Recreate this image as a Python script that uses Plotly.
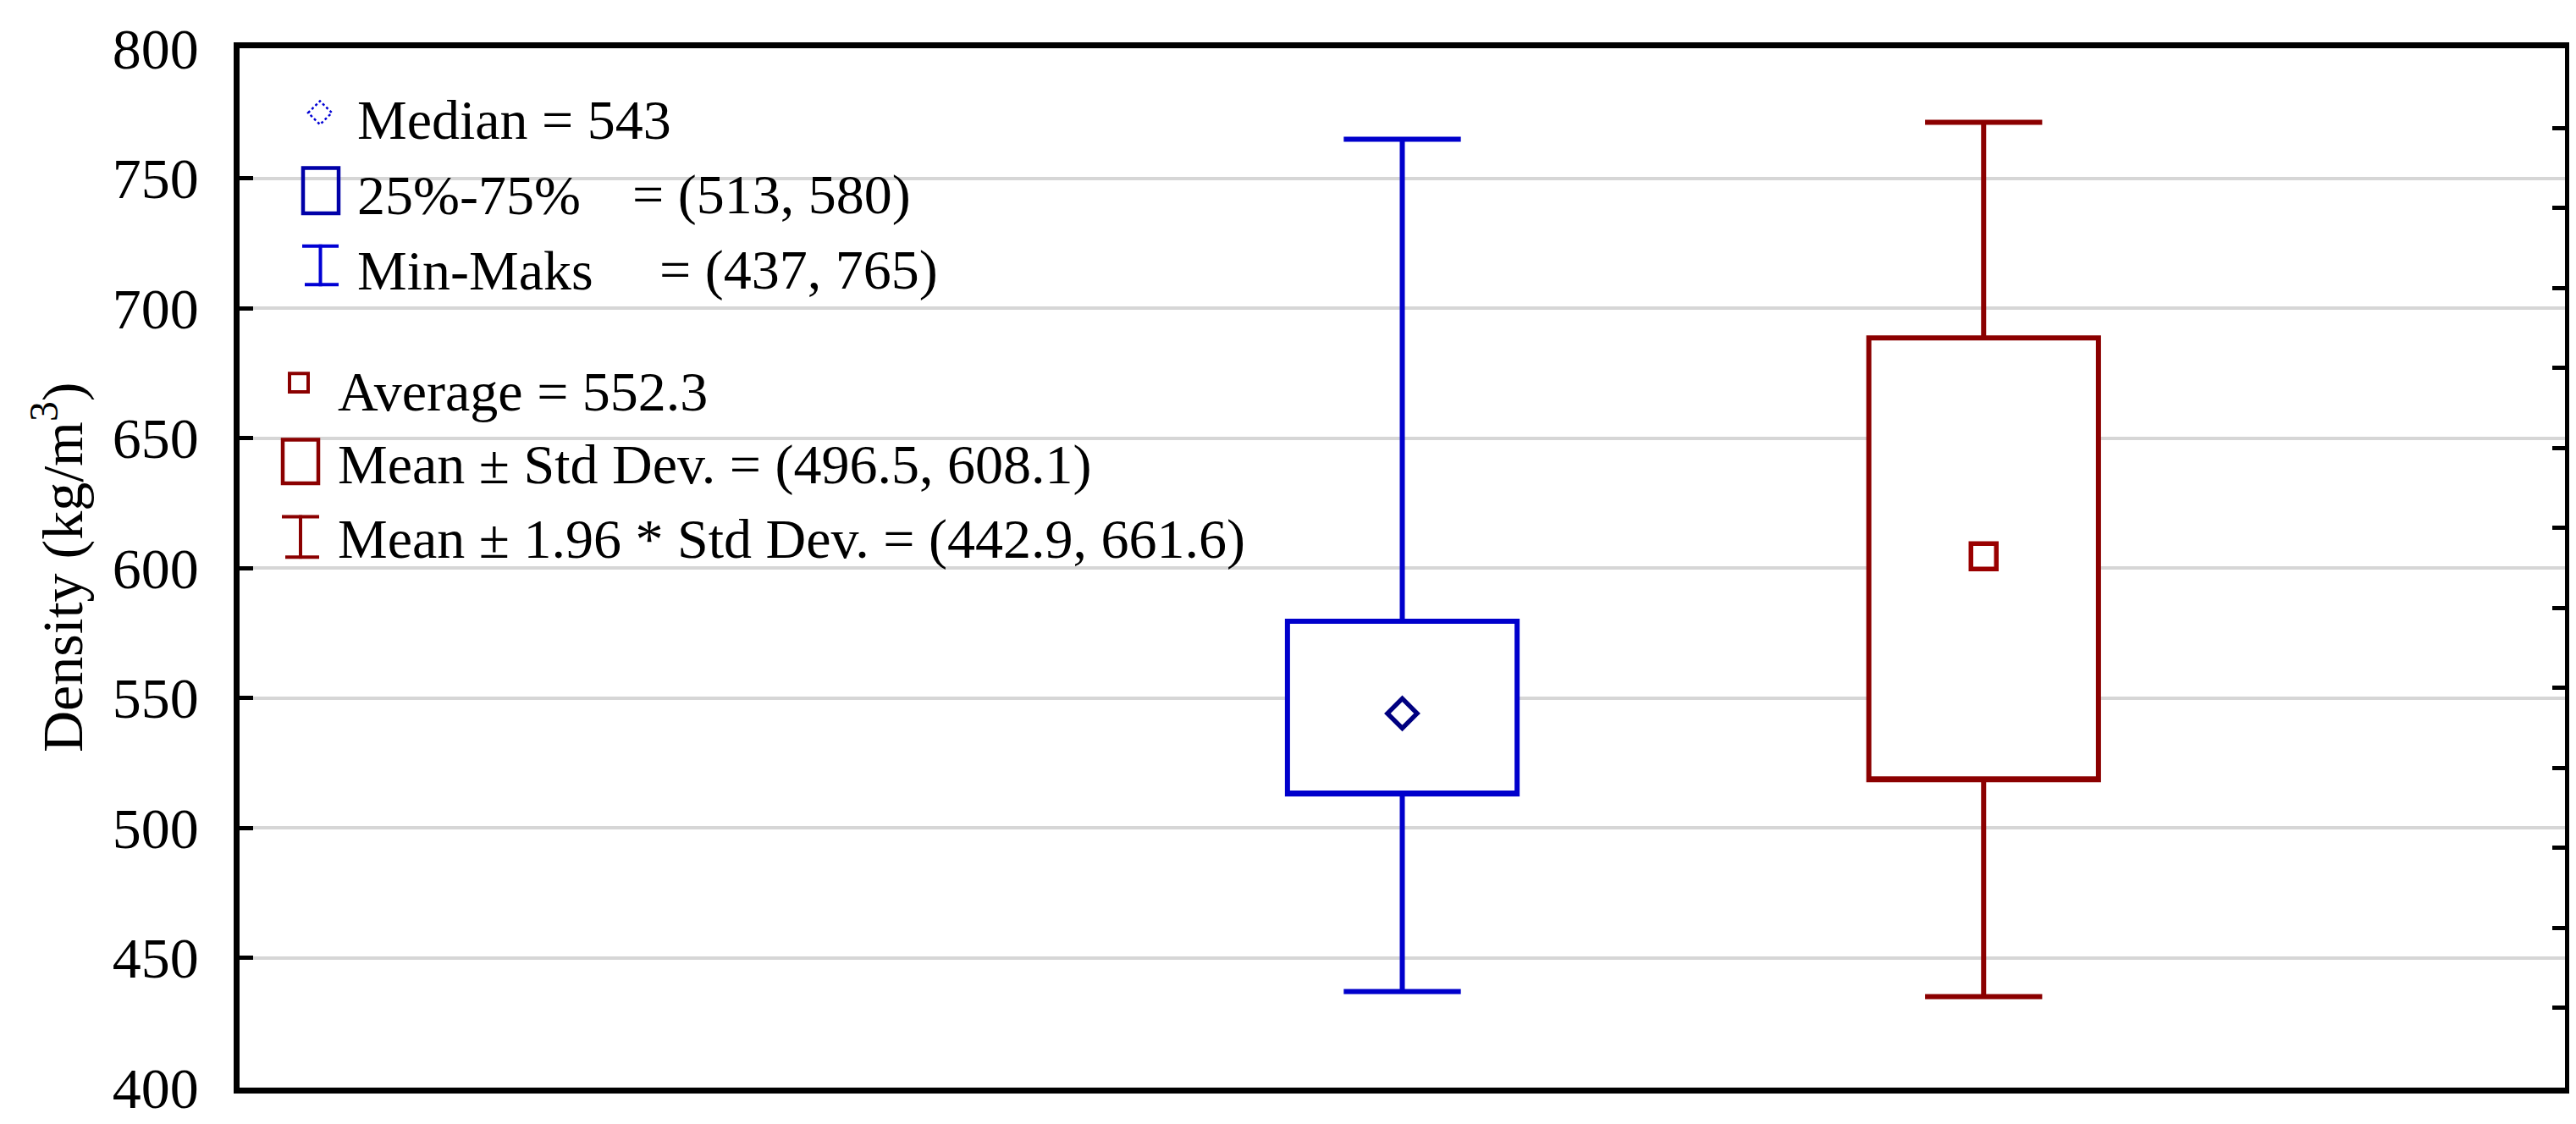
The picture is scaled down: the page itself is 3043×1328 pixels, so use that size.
import plotly.graph_objects as go

# values
positions = [1, 2]
box_low = [513.0, 518.5]      # 25% / mean - sd
box_high = [579.5, 688.5]     # 75% / mean + sd
whisk_low = [437.0, 435.0]    # min / mean - 1.96 sd
whisk_high = [765.0, 771.5]   # max / mean + 1.96 sd
centre = [544.0, 604.5]       # median / mean
colors = ["#0000cc", "#8b0000"]
centre_colors = ["#000080", "#9a0000"]
centre_symbols = ["diamond-open", "square-open"]

y_ticks = [400, 450, 500, 550, 600, 650, 700, 750, 800]

legend_rows = [
    ["Median = 543"],
    ["25%-75%", "= (513, 580)"],
    ["Min-Maks", "= (437, 765)"],
    ["Average = 552.3"],
    ["Mean \u00b1 Std Dev. = (496.5, 608.1)"],
    ["Mean \u00b1 1.96 * Std Dev. = (442.9, 661.6)"],
]

W, H = 3043, 1328
L, R, T, B = 275, 3022, 45, 1285
FONT = "Liberation Serif"


def px(x):
    return (x - L) / (R - L)


def py(y):
    return (B - y) / (B - T)


fig = go.Figure()

for i in range(2):
    fig.add_trace(go.Box(
        x=[positions[i]],
        q1=[box_low[i]], median=[box_low[i]], q3=[box_high[i]],
        lowerfence=[whisk_low[i]], upperfence=[whisk_high[i]],
        width=0.395, whiskerwidth=0.51,
        fillcolor="white",
        line=dict(color=colors[i], width=6),
        boxpoints=False, hoverinfo="skip", showlegend=False,
    ))
    fig.add_trace(go.Scatter(
        x=[positions[i]], y=[centre[i]], mode="markers",
        marker=dict(symbol=centre_symbols[i], size=[27, 30][i],
                    color=centre_colors[i],
                    line=dict(color=centre_colors[i], width=5.5)),
        showlegend=False, hoverinfo="skip",
    ))

# empty trace so the right-hand axis gets drawn
fig.add_trace(go.Scatter(x=[None], y=[None], yaxis="y2", showlegend=False, hoverinfo="skip"))

# legend icons
shapes = []
def rect(x0, y0, x1, y1, c, w):
    shapes.append(dict(type="rect", xref="paper", yref="paper",
                       x0=px(x0), x1=px(x1), y0=py(y1), y1=py(y0),
                       line=dict(color=c, width=w), fillcolor="rgba(0,0,0,0)"))

def seg(x0, y0, x1, y1, c, w):
    shapes.append(dict(type="line", xref="paper", yref="paper",
                       x0=px(x0), x1=px(x1), y0=py(y0), y1=py(y1),
                       line=dict(color=c, width=w)))

# diamond
cx, cy, r = 370, 122, 14
shapes.append(dict(type="path", xref="paper", yref="paper",
                   path="M %f %f L %f %f L %f %f L %f %f Z" % (
                       px(cx - r), py(cy), px(cx), py(cy - r),
                       px(cx + r), py(cy), px(cx), py(cy + r)),
                   line=dict(color="#0000d4", width=2.5, dash="dot")))
rect(350, 188, 392, 242, "#0000a8", 4.5)
seg(370.5, 279, 370.5, 329, "#0000d4", 4)
seg(349, 281, 392, 281, "#0000d4", 4)
seg(352, 327, 392, 327, "#0000d4", 4)
rect(334, 433, 356, 455, "#8b0000", 4)
rect(326, 512, 368, 564, "#8b0000", 4.5)
seg(347, 602, 347, 654, "#8b0000", 4)
seg(325, 604, 369, 604, "#8b0000", 4)
seg(329, 652, 369, 652, "#8b0000", 4)

annotations = []
text_x = [412, 412, 412, 389, 389, 389]
text_y = [130, 220, 310, 454, 542, 631]
second_x = [None, 737, 769, None, None, None]
for i, row in enumerate(legend_rows):
    annotations.append(dict(xref="paper", yref="paper", x=px(text_x[i]), y=py(text_y[i]),
                            text=row[0], showarrow=False, xanchor="left", yanchor="middle",
                            font=dict(family=FONT, size=66, color="black")))
    if len(row) > 1:
        annotations.append(dict(xref="paper", yref="paper", x=px(second_x[i]), y=py(text_y[i]),
                                text=row[1], showarrow=False, xanchor="left", yanchor="middle",
                                font=dict(family=FONT, size=66, color="black")))

annotations.append(dict(xref="paper", yref="paper", x=px(61), y=0.5,
                        text="Density (kg/m<sup>3</sup>)", textangle=-90, showarrow=False,
                        xanchor="center", yanchor="middle",
                        font=dict(family=FONT, size=68, color="black")))

fig.update_layout(
    width=W, height=H,
    margin=dict(l=L, r=W - R, t=T, b=H - B),
    paper_bgcolor="white", plot_bgcolor="white",
    font=dict(family=FONT, size=66, color="black"),
    xaxis=dict(range=[-1, 3], showline=True, mirror=True, linecolor="black", linewidth=6.5,
               showticklabels=False, ticks="", showgrid=False, zeroline=False),
    yaxis=dict(range=[400, 800], tickvals=y_ticks, showline=True, linecolor="black",
               linewidth=6.5, ticks="inside", ticklen=16, tickwidth=5, tickcolor="black",
               showgrid=True, gridcolor="#d6d6d6", gridwidth=3.5, zeroline=False,
               ticklabelstandoff=28, tickfont=dict(family=FONT, size=68, color="black")),
    yaxis2=dict(overlaying="y", side="right", range=[0, 13], dtick=1, showline=True,
                linecolor="black", linewidth=6.5, ticks="inside", ticklen=15, tickwidth=5,
                tickcolor="black", showticklabels=False, showgrid=False, zeroline=False),
    shapes=shapes,
    annotations=annotations,
    showlegend=False,
)

fig.write_html("out.html")
